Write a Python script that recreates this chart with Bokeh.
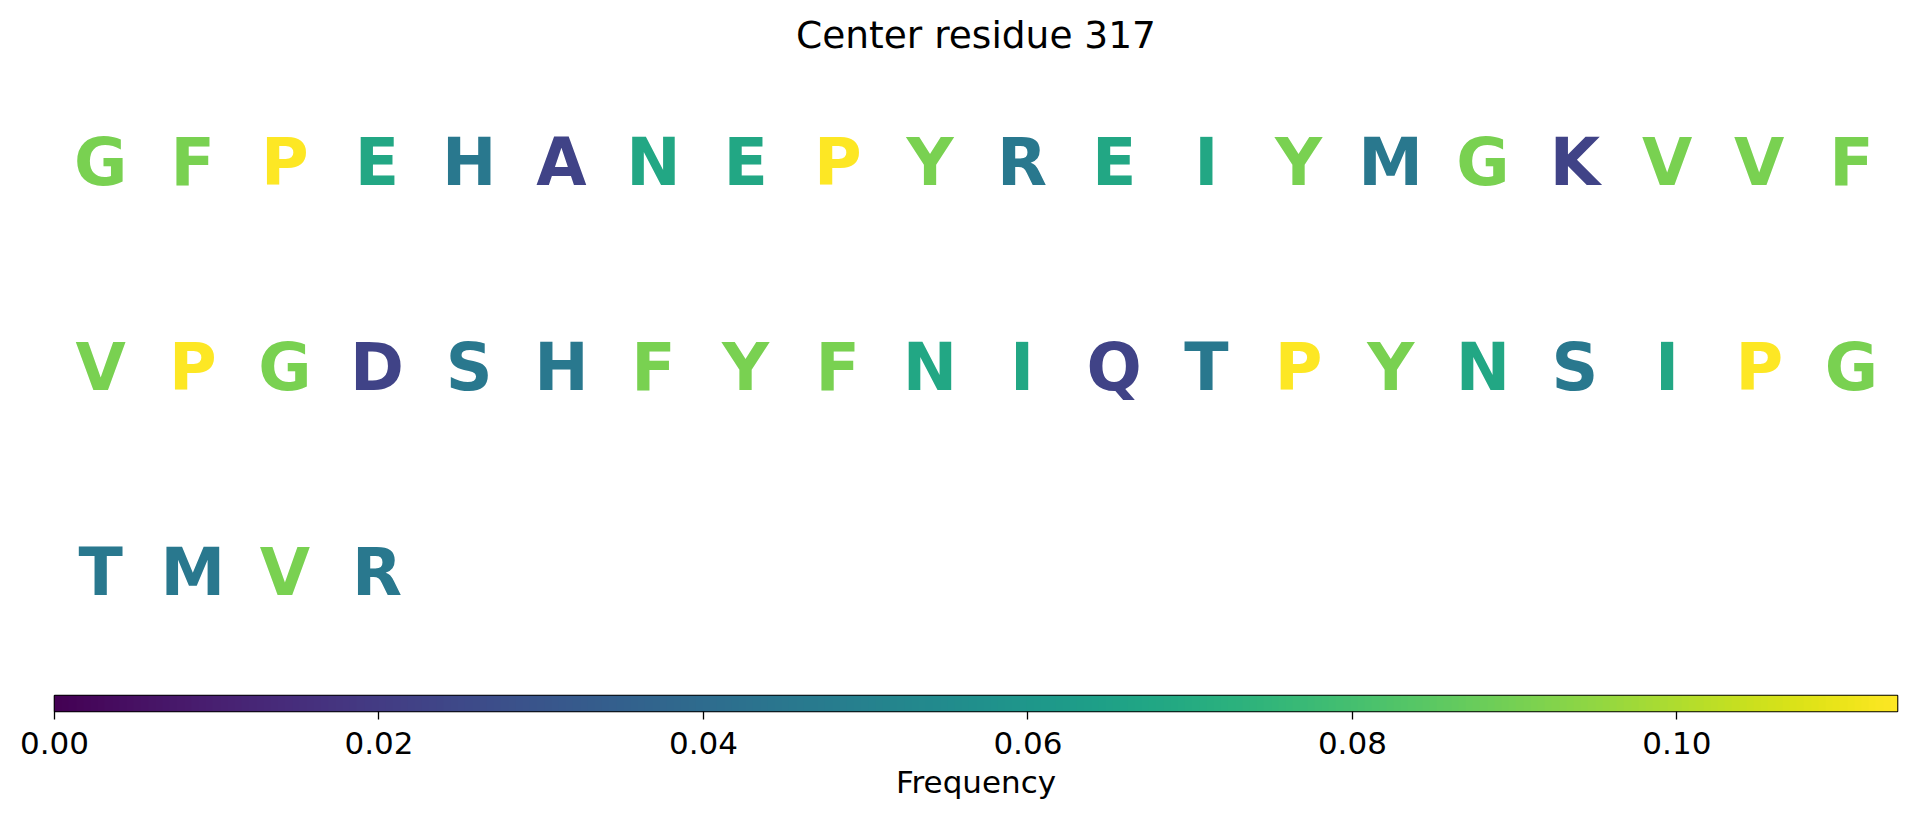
import numpy as np
from bokeh.plotting import figure
from bokeh.layouts import column
from bokeh.models import ColumnDataSource, LinearColorMapper, FixedTicker, NumeralTickFormatter, Range1d
from bokeh.palettes import Viridis256
from bokeh.transform import linear_cmap
from bokeh.core.properties import value
from bokeh.embed import file_html
from bokeh.resources import INLINE

# ---- data ----
title_text = "Center residue 317"
sequence = list("GFPEHANEPYREIYMGKVVF" "VPGDSHFYFNIQTPYNSIPG" "TMVR")
residues = ["P", "G", "F", "V", "Y", "E", "N", "I", "H", "R", "M", "S", "T", "A", "K", "D", "Q"]
frequencies = [0.1136, 0.0909, 0.0909, 0.0909, 0.0909, 0.0682, 0.0682, 0.0682,
               0.0455, 0.0455, 0.0455, 0.0455, 0.0455, 0.0227, 0.0227, 0.0227, 0.0227]
cbar_ticks = [0.00, 0.02, 0.04, 0.06, 0.08, 0.10]
cbar_label = "Frequency"
per_row = 20

vmax = max(frequencies)
freq_of = dict(zip(residues, frequencies))
n_rows = (len(sequence) + per_row - 1) // per_row

src = ColumnDataSource(dict(
    x=[i % per_row + 0.5 for i in range(len(sequence))],
    y=[i // per_row + 0.5 for i in range(len(sequence))],
    letter=sequence,
    freq=[freq_of[s] for s in sequence],
))

FONT = "DejaVu Sans"

p = figure(width=1901, height=680, x_range=Range1d(0, per_row), y_range=Range1d(n_rows, 0),
           output_backend="svg", toolbar_location=None,
           x_axis_location=None, y_axis_location=None,
           min_border_left=54, min_border_right=4, min_border_top=57, min_border_bottom=9,
           title=title_text)
p.outline_line_color = None
p.grid.visible = False
p.title.align = "center"
p.title.text_font = FONT
p.title.text_font_size = "37.5px"
p.title.text_font_style = "normal"
p.title.text_color = "black"
p.title.standoff = 1

p.text(x="x", y="y", text="letter", source=src,
       text_color=linear_cmap("freq", Viridis256, 0, vmax),
       text_font=value(FONT), text_font_size="65px", text_font_style="bold",
       text_align="center", text_baseline="alphabetic", y_offset=3)

# ---- colorbar ----
mapper = LinearColorMapper(palette=Viridis256, low=0, high=vmax)
cb = figure(width=1901, height=126, x_range=Range1d(0, vmax), y_range=Range1d(0, 1),
            output_backend="svg", toolbar_location=None,
            x_axis_location="below", y_axis_location=None,
            min_border_left=54, min_border_right=4, min_border_top=15, min_border_bottom=95)
cb.grid.visible = False
cb.image(image=[np.linspace(0, vmax, 512).reshape(1, -1)], x=0, y=0, dw=vmax, dh=1,
         color_mapper=mapper)
cb.outline_line_color = "black"
cb.outline_line_width = 1.6
ax = cb.xaxis[0]
ax.ticker = FixedTicker(ticks=cbar_ticks)
ax.formatter = NumeralTickFormatter(format="0.00")
ax.major_tick_out = 8
ax.major_tick_in = 0
ax.major_tick_line_color = "black"
ax.major_tick_line_width = 1.3
ax.minor_tick_line_color = None
ax.axis_line_color = None
ax.major_label_text_font = FONT
ax.major_label_text_font_size = "31px"
ax.major_label_text_color = "black"
ax.major_label_standoff = 12
ax.axis_label = cbar_label
ax.axis_label_text_font = FONT
ax.axis_label_text_font_size = "31px"
ax.axis_label_text_font_style = "normal"
ax.axis_label_text_color = "black"
ax.axis_label_standoff = 7

layout = column(p, cb, spacing=0)
open("out.html", "w").write(file_html(layout, INLINE))
